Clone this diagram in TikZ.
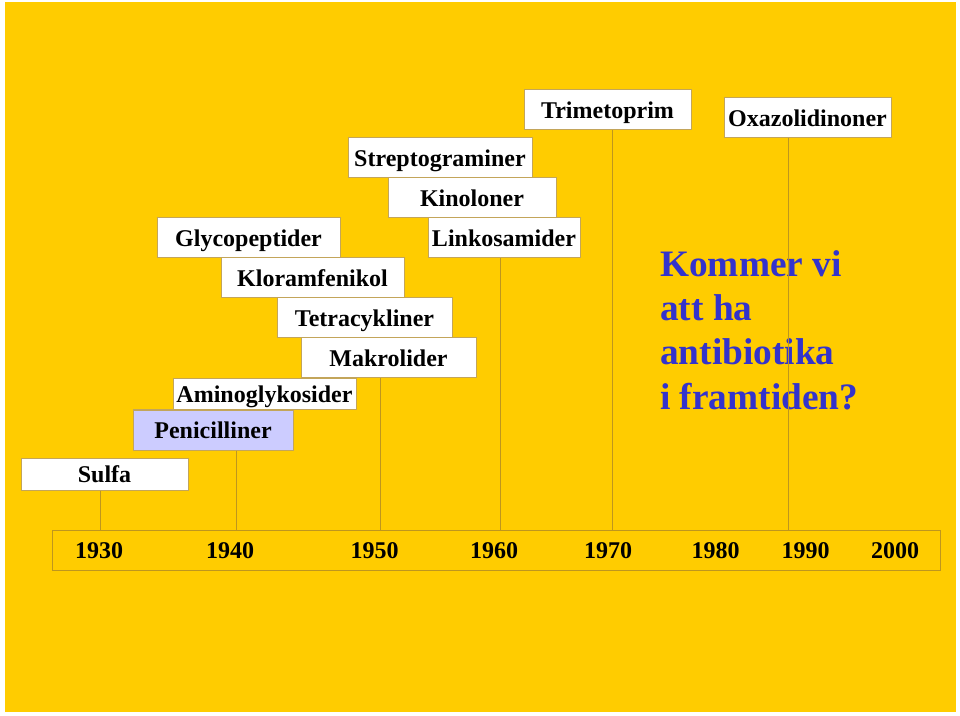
\documentclass[tikz,border=0pt]{standalone}
\usepackage{fontspec}
\setmainfont{Liberation Serif}
\definecolor{bgyellow}{RGB}{255,204,0}
\definecolor{boxline}{RGB}{195,165,90}
\definecolor{tickline}{RGB}{190,150,30}
\definecolor{lav}{RGB}{204,204,255}
\definecolor{qblue}{RGB}{51,51,204}
\begin{document}
\begin{tikzpicture}[x=0.75pt,y=-0.75pt,
  abox/.style={draw=boxline,fill=white,line width=0.75pt,inner sep=0pt,
    font=\bfseries\fontsize{18}{20}\selectfont,text height=12.2pt,text depth=0pt},
  yearlbl/.style={anchor=base,inner sep=0pt,font=\bfseries\fontsize{18}{20}\selectfont},
  qtext/.style={anchor=base west,inner sep=0pt,text=qblue,font=\bfseries\fontsize{28}{33}\selectfont},
  tick/.style={draw=tickline,line width=0.75pt}]
\useasboundingbox (0,0) rectangle (960,716);
\fill[white] (0,0) rectangle (960,716);
\fill[bgyellow] (5,2) rectangle (956,712);
% question (drawn below the tick lines)
\node[qtext] (q1) at (660,277) {Kommer vi};
\node[qtext] (q2) at (660,321) {att ha};
\node[qtext] (q3) at (660,365) {antibiotika};
\node[qtext] (q4) at (660,410) {i framtiden?};
% timeline bar
\node[draw=tickline,line width=0.75pt,inner sep=0pt,minimum width=666pt,minimum height=30pt] (bar) at (496,550) {};
\node[yearlbl] (y1930) at (99,558) {1930};
\node[yearlbl] (y1940) at (230,558) {1940};
\node[yearlbl] (y1950) at (374.5,558) {1950};
\node[yearlbl] (y1960) at (494,558) {1960};
\node[yearlbl] (y1970) at (608,558) {1970};
\node[yearlbl] (y1980) at (715.5,558) {1980};
\node[yearlbl] (y1990) at (805.5,558) {1990};
\node[yearlbl] (y2000) at (895,558) {2000};
% boxes
\node[abox,minimum width=125.25pt,minimum height=24pt] (sulfa) at (104.5,474) {Sulfa};
\node[abox,fill=lav,minimum width=120pt,minimum height=30pt] (peni) at (213,430) {Penicilliner};
\node[abox,minimum width=137.25pt,minimum height=23.25pt] (amino) at (264.5,394.5) {Aminoglykosider};
\node[abox,minimum width=131.25pt,minimum height=30pt] (makro) at (388.5,358) {Makrolider};
\node[abox,minimum width=131.25pt,minimum height=30pt] (tetra) at (364.5,318) {Tetracykliner};
\node[abox,minimum width=137.25pt,minimum height=30pt] (klor) at (312.5,278) {Kloramfenikol};
\node[abox,minimum width=137.25pt,minimum height=30pt] (glyco) at (248.5,238) {Glycopeptider};
\node[abox,minimum width=138pt,minimum height=30pt] (strep) at (440,158) {Streptograminer};
\node[abox,minimum width=126pt,minimum height=30pt] (kino) at (472,198) {Kinoloner};
\node[abox,minimum width=114pt,minimum height=30pt] (link) at (504,238) {Linkosamider};
\node[abox,minimum width=125.25pt,minimum height=30pt] (trim) at (607.5,110) {Trimetoprim};
\node[abox,minimum width=125.25pt,minimum height=30pt] (oxa) at (807.5,118) {Oxazolidinoner};
% tick positions
\coordinate (xs) at (100,0);
\coordinate (xp) at (236.5,0);
\coordinate (xm) at (380.5,0);
\coordinate (xl) at (500.5,0);
\coordinate (xt) at (612.5,0);
\coordinate (xo) at (788,0);
\draw[tick] (sulfa.south -| xs) -- (bar.north -| xs);
\draw[tick] (peni.south -| xp) -- (bar.north -| xp);
\draw[tick] (makro.south -| xm) -- (bar.north -| xm);
\draw[tick] (link.south -| xl) -- (bar.north -| xl);
\draw[tick] (trim.south -| xt) -- (bar.north -| xt);
\draw[tick] (oxa.south -| xo) -- (bar.north -| xo);
\end{tikzpicture}
\end{document}
